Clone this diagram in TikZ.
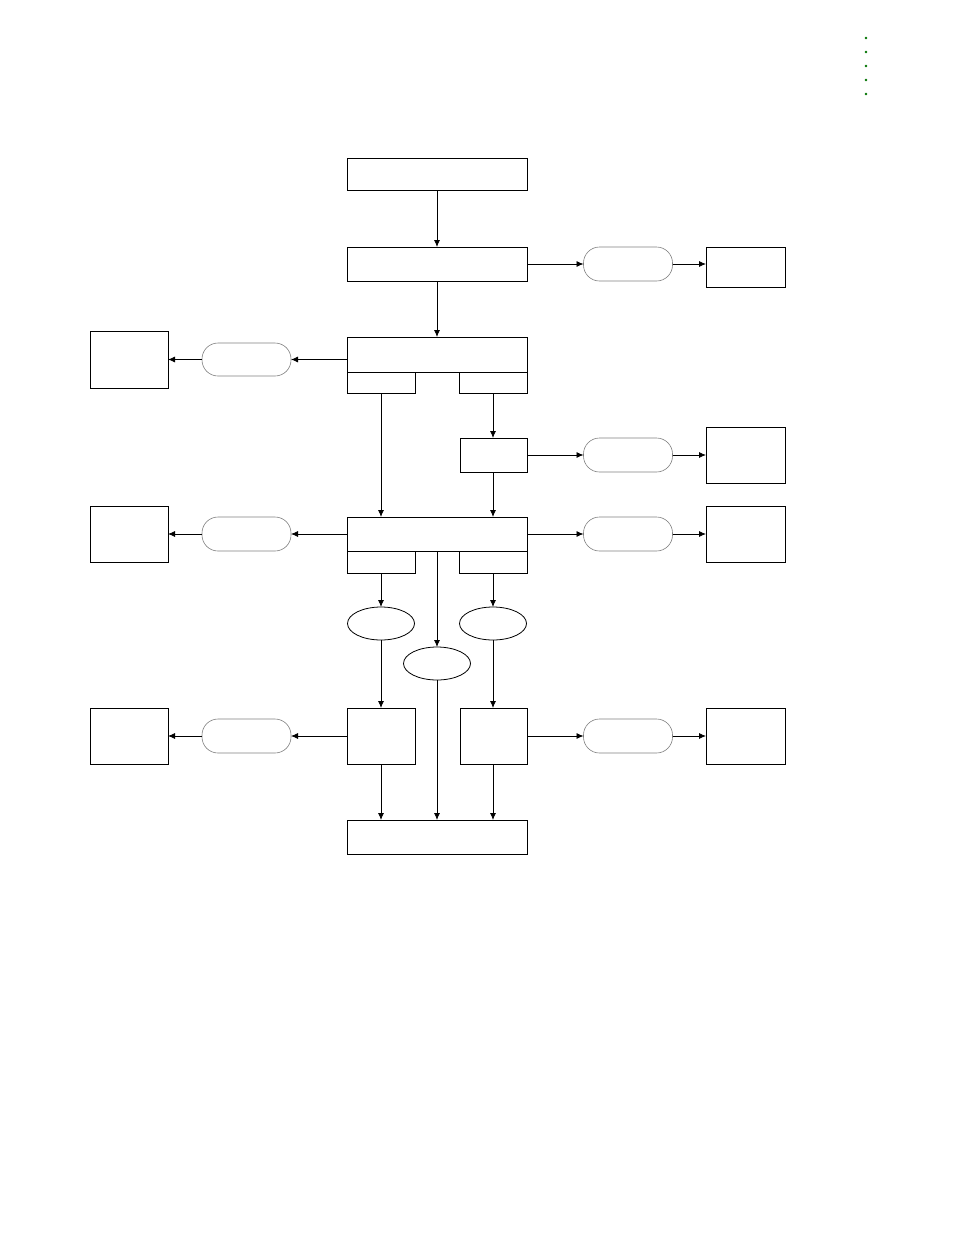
\documentclass[tikz,border=0pt]{standalone}
\usetikzlibrary{arrows.meta,shapes.geometric}
\tikzset{
	blk/.style={draw, line width=0.8pt, inner sep=0pt, outer sep=0pt},
	pill/.style={draw=black!50, line width=0.6pt, rounded corners=16pt, minimum width=89pt, minimum height=34pt, inner sep=0pt, outer sep=0pt},
	oval/.style={ellipse, draw, line width=0.8pt, minimum width=67pt, minimum height=33pt, inner sep=0pt, outer sep=0pt},
	flow/.style={-{Latex[length=7pt,width=6pt]}, line width=0.8pt},
}
\begin{document}
\begin{tikzpicture}[x=1pt,y=-1pt]
			%%%%% START %%%%%
			\useasboundingbox (0,0) rectangle (954,1235);
			
			\foreach \y in {38,52,66,80,94}
				\fill[green!45!black] (866,\y) circle (1.3);
			
			% main column
			\node[blk, minimum width=180pt, minimum height=32pt] (top) at (437,174) {};
			\node[blk, minimum width=180pt, minimum height=34pt] (recv) at (437,264) {};
			\node[blk, minimum width=180pt, minimum height=35pt] (split) at (437,354.5) {};
			\node[blk, minimum width=68pt, minimum height=21pt] (splitl) at (381,382.5) {};
			\node[blk, minimum width=68pt, minimum height=21pt] (splitr) at (493,382.5) {};
			\node[blk, minimum width=67pt, minimum height=34pt] (small) at (493.5,455) {};
			\node[blk, minimum width=180pt, minimum height=34pt] (merge) at (437,534) {};
			\node[blk, minimum width=68pt, minimum height=22pt] (mergel) at (381,562) {};
			\node[blk, minimum width=68pt, minimum height=22pt] (merger) at (493,562) {};
			\node[oval] (ovl) at (381,623.5) {};
			\node[oval] (ovr) at (493,623.5) {};
			\node[oval] (ovm) at (437,663.5) {};
			\node[blk, minimum width=68pt, minimum height=56pt] (left) at (381,736) {};
			\node[blk, minimum width=67pt, minimum height=56pt] (right) at (493.5,736) {};
			\node[blk, minimum width=180pt, minimum height=34pt] (bottom) at (437,837) {};
			
			% side branches
			\node[pill] (pa) at (628,264) {};
			\node[blk, minimum width=79pt, minimum height=40pt] (outa) at (745.5,267) {};
			\node[pill, minimum height=33pt] (pb) at (246.5,359.5) {};
			\node[blk, minimum width=78pt, minimum height=57pt] (outb) at (129,359.5) {};
			\node[pill] (pc) at (628,455) {};
			\node[blk, minimum width=79pt, minimum height=56pt] (outc) at (745.5,455) {};
			\node[pill] (pd) at (246.5,534) {};
			\node[blk, minimum width=78pt, minimum height=56pt] (outd) at (129,534) {};
			\node[pill] (pe) at (628,534) {};
			\node[blk, minimum width=79pt, minimum height=56pt] (oute) at (745.5,534) {};
			\node[pill] (pf) at (246.5,736) {};
			\node[blk, minimum width=78pt, minimum height=56pt] (outf) at (129,736) {};
			\node[pill] (pg) at (628,736) {};
			\node[blk, minimum width=79pt, minimum height=56pt] (outg) at (745.5,736) {};
			
			% connectors
			\draw[flow] (top) -- (recv);
			\draw[flow] (recv) -- (split);
			\draw[flow] (recv.east) -- (pa);
			\draw[flow] (pa) -- (outa.west |- pa.east);
			\draw[flow] (pb.east -| split.west) -- (pb);
			\draw[flow] (pb) -- (outb);
			\draw[flow] (splitl) -- (splitl |- merge.north);
			\draw[flow] (splitr) -- (splitr |- small.north);
			\draw[flow] (small) -- (pc);
			\draw[flow] (pc) -- (outc);
			\draw[flow] (splitr |- small.south) -- (splitr |- merge.north);
			\draw[flow] (merge) -- (pd);
			\draw[flow] (pd) -- (outd);
			\draw[flow] (merge) -- (pe);
			\draw[flow] (pe) -- (oute);
			\draw[flow] (mergel) -- (ovl);
			\draw[flow] (merger) -- (ovr);
			\draw[flow] (merge.south) -- (ovm);
			\draw[flow] (ovl) -- (left);
			\draw[flow] (ovr.south) -- (ovr.south |- right.north);
			\draw[flow] (left) -- (pf);
			\draw[flow] (pf) -- (outf);
			\draw[flow] (right) -- (pg);
			\draw[flow] (pg) -- (outg);
			\draw[flow] (left) -- (left |- bottom.north);
			\draw[flow] (ovm) -- (bottom);
			\draw[flow] (ovr.south |- right.south) -- (ovr.south |- bottom.north);
			
			%%%%% END %%%%%
\end{tikzpicture}
\end{document}
